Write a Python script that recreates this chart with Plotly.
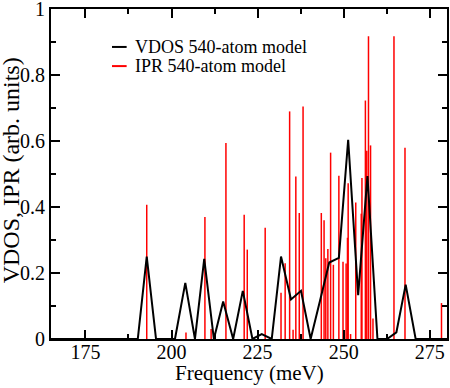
import plotly.graph_objects as go

# VDOS (black line) vertices: frequency (meV) and value
vdos_freq = [165.0, 190.2, 192.8, 195.5, 198.3, 201.0, 204.0, 206.8, 209.5, 212.3,
             215.0, 217.9, 220.7, 223.5, 226.2, 229.1, 231.8, 234.7, 237.6, 240.4,
             243.1, 245.8, 248.6, 251.3, 254.2, 256.9, 259.8, 262.6, 265.3, 268.0,
             270.9, 280.0]
vdos_val = [0.0, 0.0, 0.25, 0.0, 0.0, 0.0, 0.17, 0.0, 0.243, 0.0,
            0.114, 0.0, 0.146, 0.0, 0.015, 0.0, 0.25, 0.12, 0.146, 0.0,
            0.115, 0.232, 0.246, 0.604, 0.133, 0.494, 0.0, 0.0, 0.02, 0.165,
            0.0, 0.0]

# IPR (red sticks): frequency (meV) and value
ipr_freq = [192.8, 204.2, 209.7, 211.5, 215.8, 221.1, 222.0, 227.2, 231.8, 233.0,
            234.3, 235.3, 236.1, 237.1, 238.2, 243.5, 244.3, 244.8, 245.4, 246.2,
            247.0, 248.6, 249.8, 250.7, 251.1, 251.3, 252.0, 253.5, 255.1, 255.3,
            256.3, 256.7, 257.2, 257.8, 258.5, 264.6, 267.8, 278.4]
ipr_val = [0.407, 0.02, 0.37, 0.03, 0.594, 0.377, 0.271, 0.337, 0.14, 0.23,
           0.69, 0.028, 0.493, 0.382, 0.705, 0.382, 0.36, 0.245, 0.273, 0.565,
           0.225, 0.495, 0.234, 0.229, 0.307, 0.472, 0.015, 0.414, 0.38, 0.488,
           0.723, 0.571, 0.918, 0.587, 0.062, 0.918, 0.58, 0.109]

x_ticks = [175, 200, 225, 250, 275]
y_ticks = [0, 0.2, 0.4, 0.6, 0.8, 1]

legend_labels = ["VDOS 540-atom model", "IPR 540-atom model"]
x_title = "Frequency (meV)"
y_title = "VDOS, IPR (arb. units)"
FONT = "Liberation Serif"

# build stick segments from the IPR data
stick_x, stick_y = [], []
for f, v in zip(ipr_freq, ipr_val):
    stick_x += [f, f, None]
    stick_y += [0, v, None]

fig = go.Figure()
fig.add_trace(go.Scatter(x=stick_x, y=stick_y, mode="lines",
                         line=dict(color="#ff0000", width=1.5),
                         name=legend_labels[1], showlegend=False, hoverinfo="skip"))
fig.add_trace(go.Scatter(x=vdos_freq, y=vdos_val, mode="lines",
                         line=dict(color="black", width=2),
                         name=legend_labels[0], showlegend=False))

# custom legend (short line samples + text)
for i, (lab, col) in enumerate(zip(legend_labels, ["black", "#ff0000"])):
    yp = 0.885 - i * 0.058
    fig.add_shape(type="line", xref="paper", yref="paper",
                  x0=0.154, x1=0.191, y0=yp, y1=yp,
                  line=dict(color=col, width=2))
    fig.add_annotation(xref="paper", yref="paper", x=0.208, y=yp,
                       xanchor="left", yanchor="middle", showarrow=False,
                       text=lab, font=dict(family=FONT, size=18, color="black"))

# axis titles as annotations for exact placement
fig.add_annotation(xref="paper", yref="paper", x=0.5, y=-0.104,
                   xanchor="center", yanchor="middle", showarrow=False,
                   text=x_title, font=dict(family=FONT, size=21, color="black"))
fig.add_annotation(xref="paper", yref="paper", x=-0.102, y=0.51,
                   xanchor="center", yanchor="middle", showarrow=False, textangle=-90,
                   text=y_title, font=dict(family=FONT, size=24, color="black"))

axis_common = dict(showline=True, linecolor="black", linewidth=2, mirror="allticks",
                   ticks="inside", ticklen=9, tickwidth=1.5, tickcolor="black",
                   showgrid=False, zeroline=False, ticklabeloverflow="allow",
                   tickfont=dict(family=FONT, size=20, color="black"))

fig.update_xaxes(range=[165, 280], tickvals=x_ticks, ticklabelstandoff=-6,
                 minor=dict(ticks="inside", ticklen=5, tickwidth=1.5, tickcolor="black",
                            dtick=12.5, tick0=162.5, showgrid=False),
                 **axis_common)
fig.update_yaxes(range=[0, 1.0005], tickvals=y_ticks,
                 minor=dict(ticks="inside", ticklen=5, tickwidth=1.5, tickcolor="black",
                            dtick=0.1, tick0=0, showgrid=False),
                 **axis_common)

fig.update_layout(width=450, height=388,
                  margin=dict(l=51, r=3, t=9, b=49, autoexpand=False),
                  paper_bgcolor="white", plot_bgcolor="white",
                  showlegend=False)

fig.write_html("out.html", config={"displayModeBar": False},
               post_script="document.body.style.margin='0';document.body.style.overflow='hidden';")
